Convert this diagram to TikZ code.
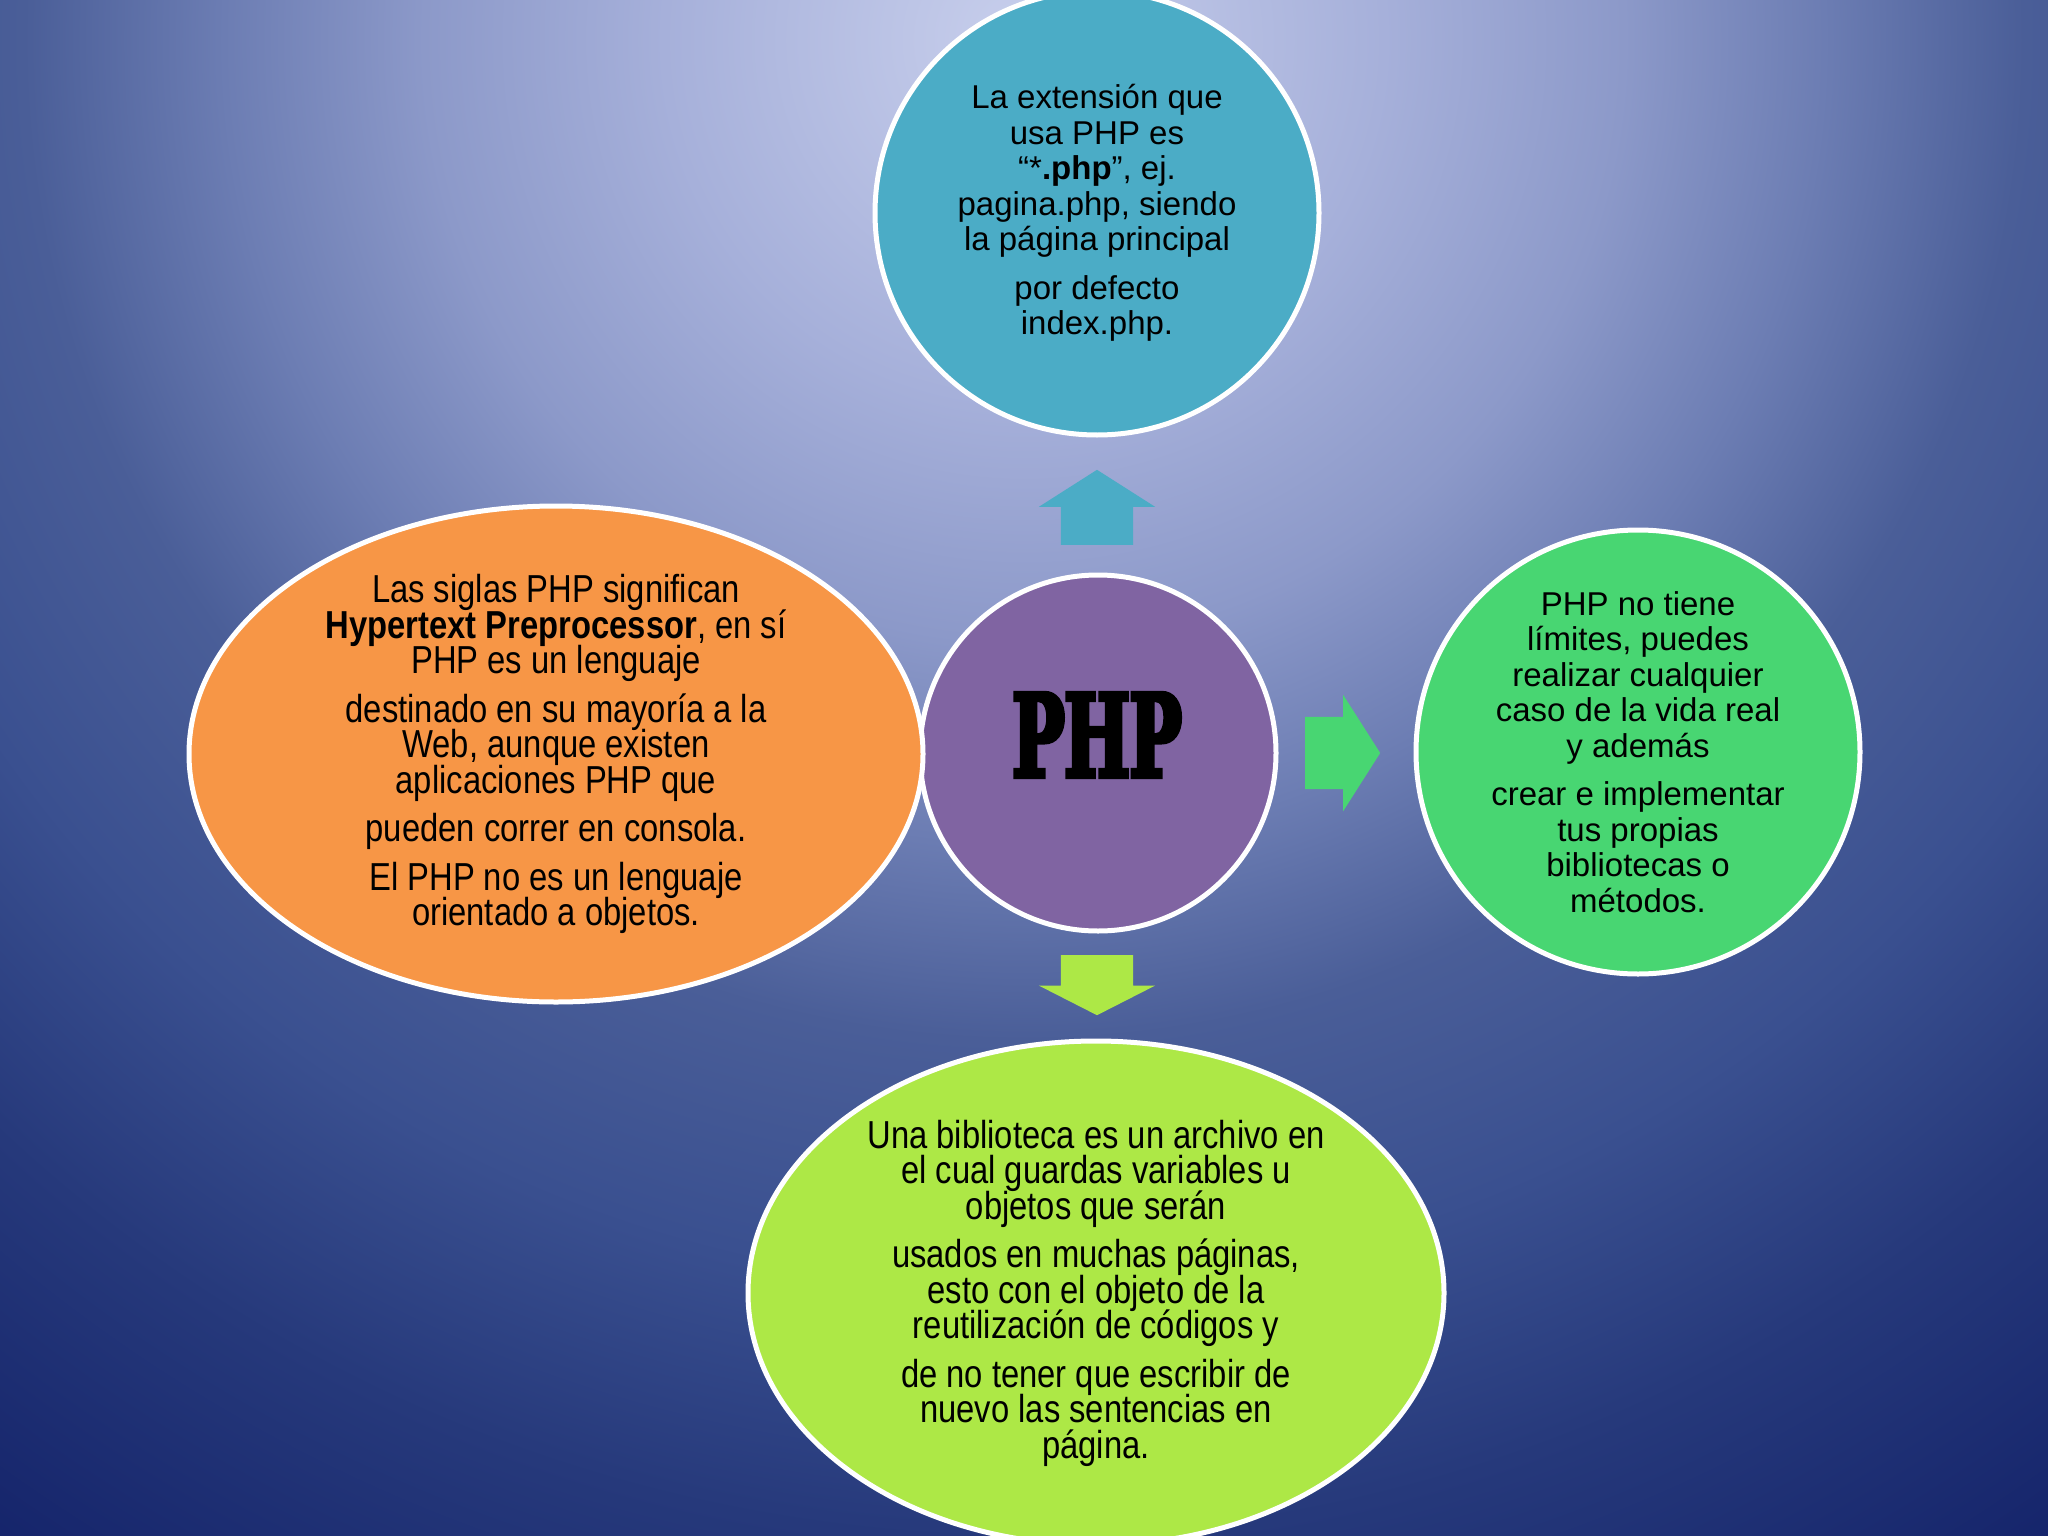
\documentclass[tikz,border=0pt]{standalone}
\usepackage{fontspec}
\setmainfont{Liberation Sans}
\newfontfamily\narrowfont{Liberation Sans}[FakeStretch=0.84]
\newfontfamily\slabfont{DejaVu Serif}[FakeStretch=0.6,FakeBold=4]
\usetikzlibrary{shapes.geometric,shapes.arrows}
\newcommand\tightlines{\lineskiplimit=-40pt\relax}

\definecolor{bgA}{HTML}{C8CFEC}
\definecolor{bgB}{HTML}{A6B0DA}
\definecolor{bgC}{HTML}{8C99C9}
\definecolor{bgD}{HTML}{6C7DB3}
\definecolor{bgE}{HTML}{4A5E98}
\definecolor{bgF}{HTML}{3A5090}
\definecolor{bgG}{HTML}{26397B}
\definecolor{bgH}{HTML}{14236A}
\definecolor{extBlue}{HTML}{4BACC6}
\definecolor{phpPurple}{HTML}{8064A2}
\definecolor{defOrange}{HTML}{F79646}
\definecolor{freeGreen}{HTML}{48D672}
\definecolor{libLime}{HTML}{ADE846}

\pgfdeclareradialshading{slidebg}{\pgfpoint{0bp}{0bp}}{color(0bp)=(bgA); color(4.5bp)=(bgB); color(7.5bp)=(bgC); color(10bp)=(bgD); color(12.5bp)=(bgE); color(15.5bp)=(bgF); color(18.75bp)=(bgG); color(23bp)=(bgH); color(50bp)=(bgH)}

\begin{document}
\begin{tikzpicture}[x=1pt, y=-1pt,
    bubble/.style={draw=white, line width=5pt, inner sep=0pt},
    bodytext/.style={align=center, text=black, font=\fontsize{33}{35.5}\selectfont},
    narrowtext/.style={align=center, text=black,
        font=\narrowfont\fontsize{39}{35.5}\selectfont\tightlines},
    blockarrow/.style={single arrow, draw=none, inner xsep=0pt, inner ysep=36pt,
        single arrow head extend=22pt, anchor=tail}]
    \useasboundingbox (0,0) rectangle (2048,1536);
    \clip (0,0) rectangle (2048,1536);
    \shade[shading=slidebg] (1024,40) circle (2000);

    % centro
    \node[bubble, circle, fill=phpPurple, minimum size=356] (php) at (1098,753) {};
    \node[font=\slabfont\bfseries\fontsize{115}{115}\selectfont] (phpLabel) at (1097,735) {PHP};

    % arriba: extension
    \node[bubble, circle, fill=extBlue, minimum size=444] (ext) at (1097,213) {};
    \node[bodytext] (extText) at (ext) {La extensión que\\ usa PHP es\\ “*\textbf{.php}”, ej.\\ pagina.php, siendo\\ la página principal\\[13pt] por defecto\\ index.php.};

    % izquierda: siglas
    \node[bubble, ellipse, fill=defOrange, minimum width=734, minimum height=496] (siglas) at (556,754) {};
    \node[narrowtext] (siglasText) at (siglas) {Las siglas PHP significan\\ \textbf{Hypertext Preprocessor}, en sí\\ PHP es un lenguaje\\[13pt] destinado en su mayoría a la\\ Web, aunque existen\\ aplicaciones PHP que\\[13pt] pueden correr en consola.\\[13pt] El PHP no es un lenguaje\\ orientado a objetos.};

    % derecha: limites
    \node[bubble, circle, fill=freeGreen, minimum size=444] (limites) at (1638,752) {};
    \node[bodytext] (limitesText) at (limites) {PHP no tiene\\ límites, puedes\\ realizar cualquier\\ caso de la vida real\\ y además\\[13pt] crear e implementar\\ tus propias\\ bibliotecas o\\ métodos.};

    % abajo: biblioteca
    \node[bubble, ellipse, fill=libLime, minimum width=696, minimum height=504] (biblio) at (1096,1293) {};
    \node[narrowtext] (biblioText) at (biblio) {Una biblioteca es un archivo en\\ el cual guardas variables u\\ objetos que serán\\[13pt] usados en muchas páginas,\\ esto con el objeto de la\\ reutilización de códigos y\\[13pt] de no tener que escribir de\\ nuevo las sentencias en\\ página.};

    % flechas
    \node[blockarrow, fill=extBlue, rotate=90, minimum height=75pt, single arrow tip angle=115] (upArrow) at (1097,545) {};
    \node[blockarrow, fill=freeGreen, minimum height=75pt, single arrow tip angle=115] (rightArrow) at (1305,753) {};
    \node[blockarrow, fill=libLime, rotate=-90, minimum height=60pt, single arrow tip angle=126] (downArrow) at (1097,955) {};
\end{tikzpicture}
\end{document}
